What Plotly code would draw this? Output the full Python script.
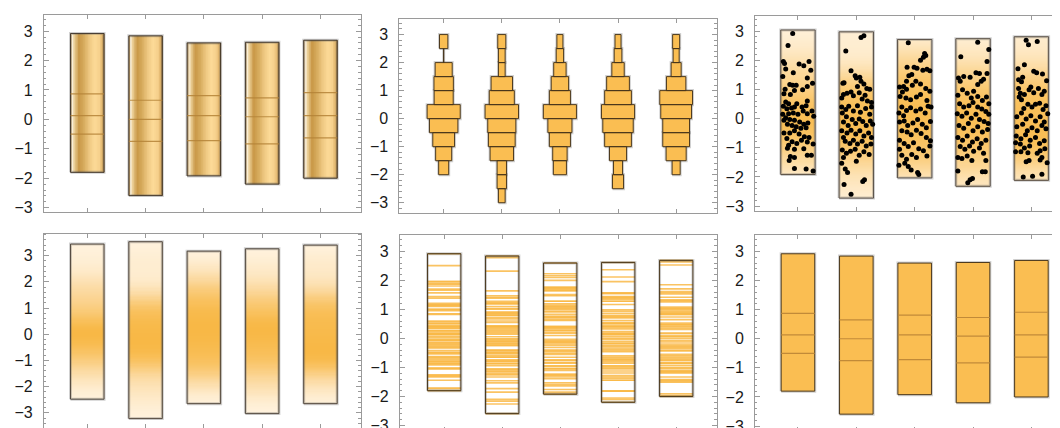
import numpy as np
import plotly.graph_objects as go

categories = [1, 2, 3, 4, 5]

# ---- sample values, with horizontal jitter of the dots
data_y = [
    [2.92, 2.51, 1.96, 1.89, 1.70, 1.57, 1.87, 1.81, 1.96, 1.66, 1.39, 1.44, 1.17, 1.14, 1.14, 1.01,
     0.96, 0.99, 1.10, 1.21, 0.85, 0.83, 0.57, 0.51, 0.42, 0.40, 0.51, 0.40, 0.44, 0.60, 0.34, 0.36,
     0.15, 0.17, 0.19, 0.15, 0.26, 0.17, 0.26, 0.08, 0.03, -0.06, -0.03, -0.06, -0.12, -0.19, -0.15,
     -0.28, -0.33, -0.31, -0.19, -0.24, -0.49, -0.49, -0.42, -0.53, -0.62, -0.65, -0.68, -0.79, -0.91,
     -0.85, -0.74, -0.80, -0.87, -1.02, -1.05, -1.03, -1.26, -1.26, -1.30, -1.44, -1.33, -1.71, -1.73,
     -1.80],
    [2.84, 2.78, 2.32, 1.64, 1.21, 1.23, 1.47, 1.39, 1.42, 1.28, 1.10, 1.19, 1.03, 1.01, 0.71, 0.83,
     0.87, 0.91, 0.78, 0.89, 0.67, 0.80, 0.60, 0.55, 0.40, 0.40, 0.31, 0.42, 0.26, 0.44, 0.22, 0.35,
     0.15, 0.19, 0.06, -0.12, -0.24, -0.03, -0.17, -0.01, -0.10, -0.24, -0.08, -0.19, -0.42, -0.49,
     -0.40, -0.53, -0.42, -0.60, -0.49, -0.65, -0.65, -0.78, -0.85, -0.74, -0.87, -0.78, -0.94, -0.87,
     -1.08, -1.19, -1.12, -1.05, -1.26, -1.14, -1.23, -1.33, -1.53, -1.73, -1.85, -1.46, -2.10, -2.16,
     -2.26, -2.59],
    [2.60, 2.23, 2.16, 2.10, 2.00, 1.76, 1.47, 1.76, 1.73, 1.51, 1.66, 1.69, 1.64, 1.28, 1.08, 1.10,
     1.01, 1.14, 1.28, 1.19, 1.03, 0.94, 0.91, 0.76, 0.71, 0.65, 0.74, 0.83, 0.62, 0.42, 0.40, 0.40,
     0.28, 0.37, 0.26, 0.33, 0.19, 0.19, 0.10, -0.12, -0.08, -0.24, -0.15, -0.03, -0.19, -0.31, -0.10,
     -0.42, -0.46, -0.55, -0.40, -0.51, -0.65, -0.76, -0.74, -0.85, -0.96, -0.83, -1.03, -1.10, -0.94,
     -1.05, -1.26, -1.39, -1.23, -1.33, -1.28, -1.60, -1.53, -1.64, -1.76, -1.85, -1.92],
    [2.62, 2.12, 2.37, 1.96, 1.39, 1.44, 1.28, 1.42, 1.57, 1.55, 1.28, 1.35, 1.17, 1.55, 0.80, 0.99,
     0.87, 0.71, 0.94, 0.76, 0.62, 0.74, 0.51, 0.51, 0.40, 0.44, 0.55, 0.40, 0.33, 0.24, 0.15, 0.17,
     0.08, 0.19, 0.01, 0.15, -0.03, -0.10, -0.17, -0.24, -0.33, -0.17, -0.42, -0.28, -0.46, -0.37,
     -0.65, -0.74, -0.60, -0.80, -0.69, -0.85, -0.74, -0.96, -1.05, -0.94, -1.12, -1.01, -1.19, -1.33,
     -1.37, -1.28, -1.44, -1.44, -1.80, -2.20, -2.10, -2.05, -1.82, -1.82],
    [2.69, 2.53, 2.64, 1.71, 1.85, 1.42, 1.62, 1.57, 1.53, 1.30, 1.33, 1.26, 1.03, 0.87, 0.83, 0.99,
     1.08, 0.89, 1.03, 0.83, 0.94, 0.74, 0.65, 0.49, 0.40, 0.49, 0.53, 0.31, 0.44, 0.35, 0.06, 0.19,
     -0.01, 0.10, -0.08, 0.06, -0.12, 0.17, -0.28, -0.19, -0.42, -0.31, -0.42, -0.24, -0.35, -0.60,
     -0.69, -0.55, -0.74, -0.65, -0.85, -0.76, -0.83, -0.87, -1.01, -0.94, -1.10, -1.03, -1.14, -1.14,
     -1.17, -1.19, -1.33, -1.48, -1.44, -1.42, -1.51, -2.00, -1.98, -1.91],
]
jitter_x = [
    [-0.09, -0.17, -0.25, -0.23, -0.21, -0.08, 0.02, 0.10, 0.19, 0.22, 0.16, -0.26, -0.14, -0.09, -0.03,
     -0.22, -0.06, 0.08, 0.16, 0.25, -0.24, -0.13, -0.21, -0.16, -0.25, -0.06, -0.02, 0.07, 0.14, 0.16,
     -0.19, -0.11, -0.26, -0.16, -0.08, 0.00, 0.09, 0.16, 0.24, 0.27, -0.21, -0.24, -0.14, -0.06, 0.03,
     0.10, 0.17, -0.03, 0.05, 0.14, -0.18, -0.10, -0.24, -0.14, -0.06, 0.02, 0.11, 0.19, -0.19, -0.10,
     -0.16, -0.02, 0.06, 0.16, 0.26, -0.18, -0.06, 0.10, 0.16, 0.23, -0.13, -0.15, -0.06, -0.06, 0.14,
     0.26],
    [0.13, 0.08, -0.18, -0.09, -0.23, -0.21, -0.02, 0.00, 0.06, 0.08, 0.02, 0.13, 0.18, 0.23, -0.25,
     -0.22, -0.16, -0.09, -0.05, 0.05, 0.10, 0.15, 0.19, 0.26, 0.26, -0.25, -0.18, -0.13, -0.05, 0.02,
     0.07, 0.16, 0.23, -0.24, -0.17, -0.22, -0.14, -0.07, -0.01, 0.05, 0.11, 0.17, 0.24, 0.28, -0.25,
     -0.16, -0.09, -0.01, 0.06, 0.13, 0.21, 0.26, -0.22, -0.19, -0.11, -0.05, 0.02, 0.10, 0.17, 0.25,
     -0.24, -0.17, -0.10, -0.02, 0.05, 0.13, 0.22, -0.22, -0.25, -0.19, -0.15, 0.00, 0.14, 0.11, -0.21,
     -0.09],
    [-0.11, 0.17, 0.19, 0.15, 0.10, -0.13, -0.10, -0.01, 0.04, -0.05, 0.14, 0.21, 0.26, -0.14, -0.26,
     -0.19, -0.14, -0.04, 0.02, 0.10, 0.19, 0.26, -0.21, -0.25, -0.15, -0.07, 0.03, 0.10, 0.21, 0.23,
     0.28, -0.22, -0.14, -0.07, 0.02, 0.10, 0.18, -0.27, -0.19, -0.26, -0.18, -0.12, -0.03, 0.05, 0.13,
     0.20, 0.27, -0.22, -0.13, -0.06, 0.03, 0.11, 0.20, 0.27, -0.26, -0.18, -0.11, -0.02, 0.07, 0.15,
     0.26, -0.26, -0.22, -0.14, -0.05, 0.03, 0.21, -0.27, -0.17, -0.11, -0.06, 0.05, 0.07],
    [0.08, -0.21, 0.27, 0.24, -0.25, -0.16, -0.22, -0.05, 0.05, 0.11, 0.14, 0.18, 0.08, 0.24, -0.26,
     -0.18, -0.10, -0.03, 0.01, 0.08, 0.16, 0.23, 0.27, -0.23, -0.16, -0.07, 0.00, 0.08, 0.15, 0.22,
     0.27, -0.27, -0.19, -0.11, -0.03, 0.05, 0.11, 0.19, 0.26, -0.24, -0.16, -0.08, 0.00, 0.08, 0.16,
     0.25, -0.26, -0.18, -0.10, -0.01, 0.07, 0.14, 0.22, -0.22, -0.14, -0.06, 0.01, 0.11, 0.18, -0.26,
     -0.19, -0.10, -0.02, 0.22, -0.26, -0.09, -0.05, -0.01, 0.16, 0.21],
    [-0.09, -0.05, 0.10, -0.23, -0.12, -0.15, 0.04, 0.09, 0.19, 0.26, -0.22, -0.17, -0.22, -0.19, -0.12,
     -0.04, -0.01, 0.04, 0.12, 0.18, 0.22, -0.21, -0.17, -0.06, 0.01, 0.07, 0.14, 0.20, 0.25, -0.13,
     -0.25, -0.17, -0.09, -0.01, 0.07, 0.15, 0.22, 0.28, -0.25, -0.15, -0.07, 0.01, 0.10, 0.18, 0.25,
     -0.26, -0.18, -0.10, -0.02, 0.07, 0.14, 0.22, -0.27, -0.19, -0.12, -0.03, 0.15, 0.23, -0.27, -0.18,
     -0.06, 0.10, 0.18, -0.09, -0.04, 0.15, 0.27, -0.14, 0.02, 0.18],
]

# ---- quartiles
data_min = [-1.80, -2.59, -1.92, -2.20, -2.00]
data_max = [2.92, 2.84, 2.60, 2.62, 2.69]
q1 = [-0.50, -0.75, -0.72, -0.83, -0.63]
median = [0.13, 0.00, 0.13, 0.09, 0.13]
q3 = [0.87, 0.65, 0.81, 0.73, 0.91]

# ---- extent of the smoothed density (bottom-left panel)
dens_lo = [-2.48, -3.22, -2.65, -3.03, -2.65]
dens_hi = [3.44, 3.53, 3.17, 3.26, 3.40]

# ---- histogram bins (lower edges) and relative bin widths per category
hist_bin_lo = [-3.0, -2.5, -2.0, -1.5, -1.0, -0.5, 0.0, 0.5, 1.0, 1.5, 2.0, 2.5]
hist_width = [
    [None, None, 0.30, 0.48, 0.65, 0.85, 0.99, 0.57, 0.58, 0.51, 0.00, 0.25],
    [0.20, 0.28, 0.28, 0.70, 0.80, 0.84, 1.00, 0.75, 0.64, 0.20, 0.20, 0.24],
    [None, None, 0.39, 0.43, 0.63, 0.72, 0.99, 0.63, 0.52, 0.37, 0.22, 0.18],
    [None, 0.33, 0.27, 0.51, 0.80, 0.91, 0.99, 0.80, 0.68, 0.37, 0.23, 0.18],
    [None, None, 0.24, 0.60, 0.80, 0.80, 0.92, 0.98, 0.58, 0.30, 0.18, 0.21],
]

BOX_W = 0.575
ORANGE = "rgb(250,190,82)"
EDGE = "rgba(70,52,25,0.95)"
HALO = "rgba(90,90,90,0.28)"
FONT = "Liberation Sans, Arial, sans-serif"
W, H = 1060, 428

fig = go.Figure()


def rect(cx, w, y0, y1):
    return [cx - w / 2, cx + w / 2, cx + w / 2, cx - w / 2, cx - w / 2], [y0, y0, y1, y1, y0]


def join(paths):
    xs, ys = [], []
    for px, py in paths:
        xs += px + [None]
        ys += py + [None]
    return xs, ys


def outline(paths, xa, ya, fill=None, halo=True, edge=EDGE, width=1):
    xs, ys = join(paths)
    if halo:
        fig.add_trace(go.Scatter(x=xs, y=ys, mode="lines", line=dict(color=HALO, width=3),
                                 xaxis=xa, yaxis=ya, hoverinfo="skip", showlegend=False))
    fig.add_trace(go.Scatter(x=xs, y=ys, mode="lines", line=dict(color=edge, width=width),
                             fill="toself" if fill else None, fillcolor=fill,
                             xaxis=xa, yaxis=ya, hoverinfo="skip", showlegend=False))


def hlines(cats, vals_list, w, xa, ya, color, width=1):
    xs, ys = [], []
    for c, vals in zip(cats, vals_list):
        for v in vals:
            xs += [c - w / 2, c + w / 2, None]
            ys += [v, v, None]
    fig.add_trace(go.Scatter(x=xs, y=ys, mode="lines", line=dict(color=color, width=width),
                             xaxis=xa, yaxis=ya, hoverinfo="skip", showlegend=False))


def kde(vals, grid, h):
    v = np.asarray(vals)[None, :]
    g = np.asarray(grid)[:, None]
    d = np.exp(-0.5 * ((g - v) / h) ** 2).sum(axis=1)
    return d / d.max()


# ================= Panel 1: glass cylinders with quartiles
glass_scale = [[0.0, "#D2A864"], [0.04, "#FBEFD8"], [0.10, "#EDD29C"], [0.24, "#C99847"],
               [0.38, "#D6AA5C"], [0.56, "#EFC983"], [0.72, "#FCDA97"], [0.86, "#F6D08C"],
               [0.96, "#DAAE64"], [1.0, "#BE8F44"]]
NG = 48
for c, lo, hi in zip(categories, data_min, data_max):
    xe = np.linspace(c - BOX_W / 2, c + BOX_W / 2, NG + 1)
    z = [list(np.linspace(0, 1, NG))]
    fig.add_trace(go.Heatmap(x=xe, y=[lo, hi], z=z, colorscale=glass_scale, zmin=0, zmax=1,
                             showscale=False, hoverinfo="skip", xaxis="x", yaxis="y"))
outline([rect(c, BOX_W, lo, hi) for c, lo, hi in zip(categories, data_min, data_max)], "x", "y",
        edge="rgba(55,45,35,0.9)")
hlines(categories, [[a, b, d] for a, b, d in zip(q1, median, q3)], BOX_W, "x", "y",
       "rgba(180,130,55,0.85)", 1.2)

# ================= Panel 2: histograms
paths2 = []
for c, widths in zip(categories, hist_width):
    for lo, wr in zip(hist_bin_lo, widths):
        if wr is not None:
            paths2.append(rect(c, wr * BOX_W, lo, lo + 0.5))
outline(paths2, "x2", "y2", fill=ORANGE)

# ================= Panel 3: density gradient with points
pad = [0.025 * (hi - lo) for lo, hi in zip(data_min, data_max)]
NR = 140
for c, vals, lo, hi, p in zip(categories, data_y, data_min, data_max, pad):
    ye = np.linspace(lo - p, hi + p, NR + 1)
    yc = 0.5 * (ye[1:] + ye[:-1])
    d = kde(vals, yc, 0.5)
    fig.add_trace(go.Heatmap(x=[c - 0.59 / 2, c + 0.59 / 2], y=ye, z=[[v] for v in d],
                             colorscale=[[0, "#FFF3E0"], [1, "#F9BE55"]], zmin=0, zmax=1,
                             showscale=False, hoverinfo="skip", xaxis="x3", yaxis="y3"))
outline([rect(c, 0.59, lo - p, hi + p) for c, lo, hi, p in zip(categories, data_min, data_max, pad)],
        "x3", "y3", edge="rgba(80,70,60,0.9)")
px, py = [], []
for c, vals, jit in zip(categories, data_y, jitter_x):
    px += [c + j for j in jit]
    py += list(vals)
fig.add_trace(go.Scatter(x=px, y=py, mode="markers", marker=dict(color="black", size=5),
                         xaxis="x3", yaxis="y3", hoverinfo="skip", showlegend=False))

# ================= Panel 4: smooth density gradient
for c, vals, lo, hi in zip(categories, data_y, dens_lo, dens_hi):
    ye = np.linspace(lo, hi, NR + 1)
    yc = 0.5 * (ye[1:] + ye[:-1])
    d = kde(vals, yc, 0.45)
    fig.add_trace(go.Heatmap(x=[c - BOX_W / 2, c + BOX_W / 2], y=ye, z=[[v] for v in d],
                             colorscale=[[0, "#FFF3E0"], [0.5, "#FBD79A"], [1, "#F8B846"]],
                             zmin=0, zmax=1, showscale=False, hoverinfo="skip",
                             xaxis="x4", yaxis="y4"))
outline([rect(c, BOX_W, lo, hi) for c, lo, hi in zip(categories, dens_lo, dens_hi)], "x4", "y4",
        edge="rgba(70,60,50,0.9)")

# ================= Panel 5: value lines
hlines(categories, data_y, BOX_W, "x5", "y5", "rgba(249,185,70,0.85)", 1.6)
outline([rect(c, BOX_W, lo, hi) for c, lo, hi in zip(categories, data_min, data_max)], "x5", "y5")

# ================= Panel 6: plain quartile boxes
outline([rect(c, BOX_W, lo, hi) for c, lo, hi in zip(categories, data_min, data_max)], "x6", "y6",
        fill=ORANGE)
hlines(categories, [[a, b, d] for a, b, d in zip(q1, median, q3)], BOX_W, "x6", "y6",
       "rgba(190,135,55,0.95)", 1.2)

# ================= axes / layout
panels = [
    # (x px left, x px right, y px top, y px bottom, xrange, yrange)
    (36, 353, 7, 206, [0.257, 5.69], [-3.15, 3.55]),
    (391.7, 709.5, 10.7, 207.3, [0.237, 5.70], [-3.38, 3.57]),
    (747.7, 1060, 8.3, 205, [0.264, 5.61], [-3.17, 3.51]),
    (36, 353, 227.7, 424, [0.257, 5.69], [-3.58, 3.84]),
    (392.3, 709.5, 229, 427, [0.237, 5.70], [-3.19, 3.57]),
    (747.7, 1060, 229, 427, [0.264, 5.61], [-3.17, 3.57]),
]
FRAME = "#9A9A9A"
layout = dict(width=W, height=H, margin=dict(l=0, r=0, t=0, b=0), plot_bgcolor="white",
              paper_bgcolor="white", showlegend=False)
for i, (xl, xr, yt, yb, xrng, yrng) in enumerate(panels, start=1):
    sfx = "" if i == 1 else str(i)
    layout["xaxis" + sfx] = dict(domain=[xl / W, min(xr / W, 1.0)], range=xrng, anchor="y" + sfx,
                                 showline=True, linecolor=FRAME, linewidth=1, mirror="ticks",
                                 ticks="inside", tickvals=categories, ticklen=4, tickcolor=FRAME,
                                 showticklabels=False, showgrid=False, zeroline=False)
    layout["yaxis" + sfx] = dict(domain=[1 - yb / H, 1 - yt / H], range=yrng, anchor="x" + sfx,
                                 showline=True, linecolor=FRAME, linewidth=1, mirror="ticks",
                                 ticks="inside", tickvals=[-3, -2, -1, 0, 1, 2, 3], ticklen=5,
                                 tickcolor=FRAME,
                                 minor=dict(ticks="inside", ticklen=2.5, dtick=0.2, tick0=0,
                                            tickcolor=FRAME, showgrid=False),
                                 tickfont=dict(family=FONT, size=16, color="#1a1a1a"),
                                 ticklabelstandoff=7,
                                 showgrid=False, zeroline=False)
fig.update_layout(**layout)
fig.write_html("out.html")
